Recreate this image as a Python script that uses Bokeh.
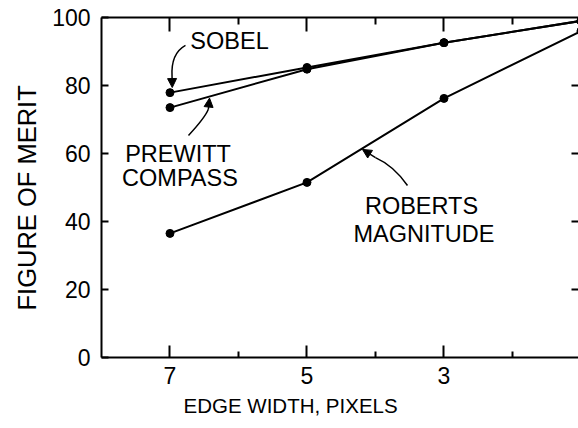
from bokeh.plotting import figure
from bokeh.models import (Range1d, FixedTicker, LinearAxis, Label, Arrow, NormalHead,
                          CustomJSTickFormatter, Title)
from bokeh.embed import file_html
from bokeh.resources import INLINE

# ---- data ----
edge_width = [7, 5, 3, 1]
sobel = [77.9, 85.3, 92.6, 99.0]
prewitt = [73.5, 84.8, 92.6, 99.0]
roberts = [36.5, 51.5, 76.2, 96.0]

x_major = [7, 5, 3]
x_minor = [6, 4, 2]
y_major = [0, 20, 40, 60, 80, 100]

x_title = "EDGE WIDTH, PIXELS"
y_title = "FIGURE OF MERIT"

# annotation texts
notes_text = ["SOBEL", "PREWITT", "COMPASS", "ROBERTS", "MAGNITUDE"]
notes_x = [6.131, 6.883, 6.854, 3.328, 3.292]
notes_y = [93.2, 59.9, 52.9, 44.7, 36.2]

# curved leader lines (bezier) and arrow tips
curve_x0 = [6.774, 6.730, 3.533]
curve_y0 = [91.8, 65.3, 50.6]
curve_cx0 = [6.964, 6.555, 3.664]
curve_cy0 = [89.7, 69.1, 54.4]
curve_cx1 = [6.978, 6.470, 3.810]
curve_cy1 = [85.0, 71.5, 57.1]
curve_x1 = [6.970, 6.440, 4.000]
curve_y1 = [82.5, 73.0, 58.8]
tip_x = [6.967, 6.423, 4.190]
tip_y = [79.4, 76.3, 61.2]

FONT = "Liberation Sans"

p = figure(width=578, height=428, x_range=Range1d(8, 1.036), y_range=Range1d(0, 100),
           output_backend="svg", toolbar_location=None, x_axis_location=None,
           y_axis_location=None)
p.min_border_left = 101
p.min_border_right = 0
p.min_border_top = 17
p.min_border_bottom = 71
p.outline_line_color = None
p.xgrid.visible = False
p.ygrid.visible = False
p.background_fill_color = "white"
p.border_fill_color = "white"

blank = CustomJSTickFormatter(code="return ''")

def style(ax, major_in, minor_in, labels=True):
    ax.axis_line_color = "black"
    ax.axis_line_width = 2
    ax.major_tick_line_color = "black"
    ax.major_tick_line_width = 2
    ax.minor_tick_line_color = "black"
    ax.minor_tick_line_width = 2
    ax.major_tick_in = major_in
    ax.major_tick_out = 0
    ax.minor_tick_in = minor_in
    ax.minor_tick_out = 0
    ax.major_label_text_font = FONT
    ax.major_label_text_color = "black"
    if labels:
        ax.major_label_text_font_size = "23px"
    else:
        ax.formatter = blank
        ax.major_label_text_font_size = "1px"
        ax.major_label_standoff = 0

xb = LinearAxis(ticker=FixedTicker(ticks=x_major, minor_ticks=x_minor))
style(xb, 12, 6)
xb.major_label_standoff = 9
p.add_layout(xb, "below")

yl = LinearAxis(ticker=FixedTicker(ticks=y_major))
style(yl, 7, 0)
yl.major_label_standoff = 11
p.add_layout(yl, "left")

xt = LinearAxis(ticker=FixedTicker(ticks=x_major, minor_ticks=x_minor))
style(xt, 14, 7, labels=False)
p.add_layout(xt, "above")

yr = LinearAxis(ticker=FixedTicker(ticks=y_major[1:-1]))
style(yr, 7, 0, labels=False)
yr.axis_line_color = None
p.add_layout(yr, "right")

# axis titles as Titles so they can be offset like in the original
p.add_layout(Title(text=x_title, align="left", offset=82, standoff=10,
                   text_font=FONT, text_font_size="20.5px", text_font_style="normal",
                   text_color="black"), "below")
p.add_layout(Title(text=y_title, align="left", offset=47, standoff=17,
                   text_font=FONT, text_font_size="25.5px", text_font_style="normal",
                   text_color="black"), "left")

# data lines
for series in (sobel, prewitt, roberts):
    p.line(edge_width, series, line_color="black", line_width=2)
    p.scatter(edge_width, series, marker="circle", size=8, color="black")

# leader curves
p.bezier(x0=curve_x0, y0=curve_y0, x1=curve_x1, y1=curve_y1,
         cx0=curve_cx0, cy0=curve_cy0, cx1=curve_cx1, cy1=curve_cy1,
         line_color="black", line_width=1.5)
for xs, ys, xe, ye in zip(curve_x1, curve_y1, tip_x, tip_y):
    p.add_layout(Arrow(end=NormalHead(size=9, fill_color="black", line_color="black"),
                       x_start=xs, y_start=ys, x_end=xe, y_end=ye,
                       line_color="black", line_width=1.5))

for t, x, y in zip(notes_text, notes_x, notes_y):
    p.add_layout(Label(x=x, y=y, text=t, text_align="center", text_baseline="middle",
                       text_font=FONT, text_font_size="23.5px", text_color="black"))

open("out.html", "w").write(file_html(p, INLINE))
